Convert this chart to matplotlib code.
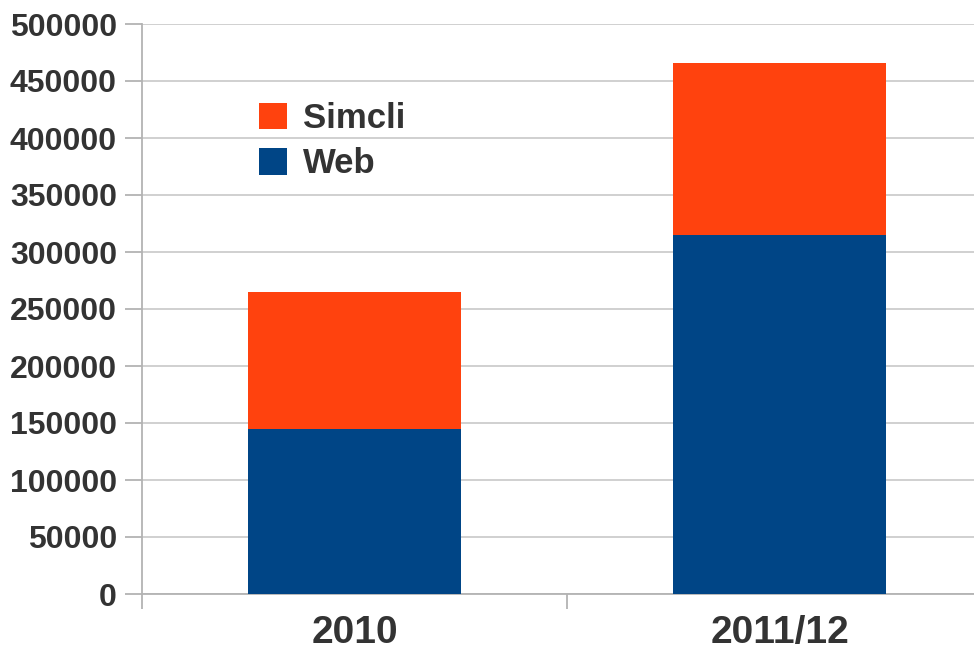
import matplotlib.pyplot as plt
from matplotlib.patches import Patch

# donnees
years = ["2010", "2011/12"]
web = [145000, 315000]
simcli = [120000, 151000]
yticks = [0, 50000, 100000, 150000, 200000, 250000, 300000, 350000, 400000, 450000, 500000]

c_web = "#004586"
c_simcli = "#ff420e"
txt = "#333333"
grid = "#d0d0d0"

plt.rcParams['font.family'] = ['Liberation Sans', 'DejaVu Sans']

fig = plt.figure(figsize=(9.74, 6.51), dpi=100)
W, H = 974, 651
ax = fig.add_axes([142 / W, (H - 594) / H, 850 / W, 570 / H])

x = list(range(len(years)))
ax.bar(x, web, width=0.5, color=c_web, zorder=3)
ax.bar(x, simcli, width=0.5, bottom=web, color=c_simcli, zorder=3)

ax.set_xlim(-0.5, 1.5)
ax.set_ylim(0, 500000)
ax.set_yticks(yticks)
ax.set_yticklabels([str(v) for v in yticks], fontsize=23, fontweight='bold', color=txt)
ax.set_xticks(x)
ax.set_xticklabels(years, fontsize=28, fontweight='bold', color=txt)
ax.set_xticks([-0.5, 0.5, 1.5], minor=True)

ax.tick_params(axis='x', which='major', length=0, pad=15)
ax.tick_params(axis='x', which='minor', length=11, width=1.3, color='#b3b3b3')
ax.tick_params(axis='y', length=12, width=1.3, color='#b3b3b3', pad=6)

ax.yaxis.grid(True, color=grid, linewidth=1.4, zorder=0)
for s in ['top', 'right']:
    ax.spines[s].set_visible(False)
for s in ['left', 'bottom']:
    ax.spines[s].set_color('#b3b3b3')
    ax.spines[s].set_linewidth(1.3)

handles = [Patch(facecolor=c_simcli, label="Simcli"), Patch(facecolor=c_web, label="Web")]
leg = fig.legend(handles=handles, loc='upper left', bbox_to_anchor=(228 / W, 1 - 71 / H),
                 frameon=False, handlelength=0.8, handleheight=0.8, handletextpad=0.45,
                 labelspacing=0.35, prop={'size': 25, 'weight': 'bold'})
for t in leg.get_texts():
    t.set_color(txt)

fig.savefig("out.png", dpi=100)
